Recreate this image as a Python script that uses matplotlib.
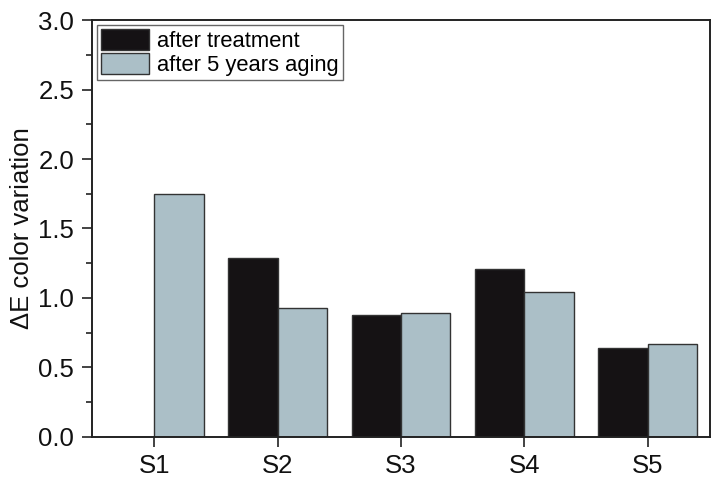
import matplotlib
matplotlib.use("Agg")
import matplotlib.pyplot as plt
import numpy as np
from matplotlib.ticker import MultipleLocator

plt.rcParams['font.family'] = ['Liberation Sans', 'DejaVu Sans']

categories = ["S1", "S2", "S3", "S4", "S5"]
after_treatment = [0.0, 1.29, 0.88, 1.21, 0.64]
after_aging = [1.75, 0.93, 0.89, 1.04, 0.67]

fig = plt.figure(figsize=(7.11, 4.79), dpi=100)
ax = fig.add_axes([0.130, 0.088, 0.868, 0.870])

x = np.arange(len(categories))
w = 0.4
ax.bar(x, after_treatment, width=-w, align='edge', color='#151214',
       edgecolor='#333333', linewidth=1.0, label='after treatment')
ax.bar(x, after_aging, width=w, align='edge', color='#abbfc7',
       edgecolor='#333333', linewidth=1.0, label='after 5 years aging')

ax.set_xlim(-0.5, 4.5)
ax.set_ylim(0, 3.0)
ax.set_xticks(x)
ax.set_xticklabels(categories)
ax.yaxis.set_major_locator(MultipleLocator(0.5))
ax.yaxis.set_minor_locator(MultipleLocator(0.25))
ax.yaxis.set_major_formatter(matplotlib.ticker.FormatStrFormatter('%.1f'))
ax.tick_params(axis='both', which='major', direction='out', length=7, width=1.2,
               labelsize=18.5, color='#222222', labelcolor='#111111')
ax.tick_params(axis='y', which='minor', direction='out', length=4, width=1.2, color='#222222')
ax.tick_params(axis='x', which='major', pad=5)
ax.tick_params(axis='y', which='major', pad=6)
ax.set_ylabel('ΔE color variation', fontsize=18.5, labelpad=3, color='#111111')
for s in ax.spines.values():
    s.set_linewidth(1.4)
    s.set_color('#222222')

leg = ax.legend(loc='upper left', fontsize=15.8, frameon=True, fancybox=False,
                edgecolor='#666666', framealpha=1, borderpad=0.2,
                handlelength=2.2, handleheight=1.1, handletextpad=0.33,
                labelspacing=0.05, borderaxespad=0.2)
leg.get_frame().set_linewidth(1.0)

fig.savefig('out.png', dpi=100)
